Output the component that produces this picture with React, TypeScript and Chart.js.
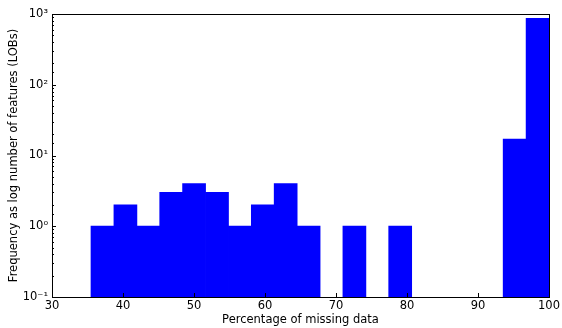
import React, { useEffect, useRef } from "react";
import { Chart, registerables } from "chart.js";

Chart.register(...registerables);

// Histogram bin centres (% of missing data), bin width ~3.225 from 35.5 to 100
const binCenters = [
  37.11, 40.34, 43.56, 46.79, 50.01, 53.24, 56.46, 59.69, 62.91, 66.14,
  69.36, 72.59, 75.81, 79.04, 82.26, 85.49, 88.71, 91.94, 95.16, 98.39,
];
// Frequencies (null = empty bin)
const frequencies: (number | null)[] = [
  1, 2, 1, 3, 4, 3, 1, 2, 4, 1,
  null, 1, null, 1, null, null, null, null, 17, 870,
];
const xTicks = [30, 40, 50, 60, 70, 80, 90, 100];
const yPowers = [-1, 0, 1, 2, 3];
const yPowerLabels = ["10⁻¹", "10⁰", "10¹", "10²", "10³"];

const FONT = "'DejaVu Sans', sans-serif";

const framePlugin = {
  id: "frameTicks",
  afterDatasetsDraw(chart: any) {
    const { ctx, chartArea: a, scales } = chart;
    const xs = scales.x;
    const ys = scales.y;
    ctx.save();
    ctx.strokeStyle = "#000";
    ctx.lineWidth = 1;
    ctx.beginPath();
    for (const t of xs.ticks) {
      const px = Math.round(xs.getPixelForValue(t.value)) + 0.5;
      ctx.moveTo(px, a.bottom);
      ctx.lineTo(px, a.bottom - 4);
    }
    for (const t of ys.ticks) {
      const lg = Math.log10(t.value);
      const major = Math.abs(lg - Math.round(lg)) < 1e-6;
      const py = Math.round(ys.getPixelForValue(t.value)) + 0.5;
      ctx.moveTo(a.left, py);
      ctx.lineTo(a.left + (major ? 4 : 2), py);
    }
    ctx.stroke();
    ctx.strokeRect(
      Math.round(a.left) + 0.5,
      Math.round(a.top) + 0.5,
      Math.round(a.right - a.left),
      Math.round(a.bottom - a.top)
    );
    ctx.restore();
  },
};

export default function App() {
  const ref = useRef<HTMLCanvasElement | null>(null);

  useEffect(() => {
    if (!ref.current) return;
    const chart = new Chart(ref.current, {
      type: "bar",
      data: {
        datasets: [
          {
            data: binCenters.map((x, i) => ({ x, y: frequencies[i] })) as any,
            backgroundColor: "#0000ff",
            borderWidth: 0,
            barPercentage: 1,
            categoryPercentage: 1,
            inflateAmount: 0.4,
          } as any,
        ],
      },
      options: {
        responsive: false,
        animation: false,
        layout: { padding: { left: 0, right: 11, top: 14, bottom: 0 } },
        plugins: { legend: { display: false }, tooltip: { enabled: false } },
        scales: {
          x: {
            type: "linear",
            min: 30,
            max: 100,
            offset: false,
            grid: { display: false, drawTicks: false },
            border: { display: false },
            afterBuildTicks: (s: any) => {
              s.ticks = xTicks.map((v) => ({ value: v }));
            },
            afterFit: (s: any) => {
              s.height = 31;
            },
            ticks: {
              color: "#000",
              font: { family: FONT, size: 11.5 },
              padding: 2,
              maxRotation: 0,
              autoSkip: false,
            },
            title: {
              display: true,
              text: "Percentage of missing data",
              color: "#000",
              font: { family: FONT, size: 11.5 },
              padding: { top: 0, bottom: 1 },
            },
          },
          y: {
            type: "logarithmic",
            min: 0.1,
            max: 1000,
            grid: { display: false, drawTicks: false },
            border: { display: false },
            afterFit: (s: any) => {
              s.width = 52;
            },
            ticks: {
              color: "#000",
              font: { family: FONT, size: 11.5 },
              padding: 4,
              autoSkip: false,
              callback: (v: any) => {
                const lg = Math.log10(Number(v));
                const r = Math.round(lg);
                if (Math.abs(lg - r) > 1e-6) return "";
                const idx = yPowers.indexOf(r);
                return idx >= 0 ? yPowerLabels[idx] : "";
              },
            },
            title: {
              display: true,
              text: "Frequency as log number of features (LOBs)",
              color: "#000",
              font: { family: FONT, size: 11.5 },
              padding: { top: 7, bottom: 0 },
            },
          },
        },
      },
      plugins: [framePlugin],
    });
    return () => chart.destroy();
  }, []);

  return (
    <div style={{ position: "absolute", left: 0, top: 0, width: 562, height: 328, background: "#fff" }}>
      <canvas ref={ref} width={562} height={328} style={{ display: "block" }} />
    </div>
  );
}
